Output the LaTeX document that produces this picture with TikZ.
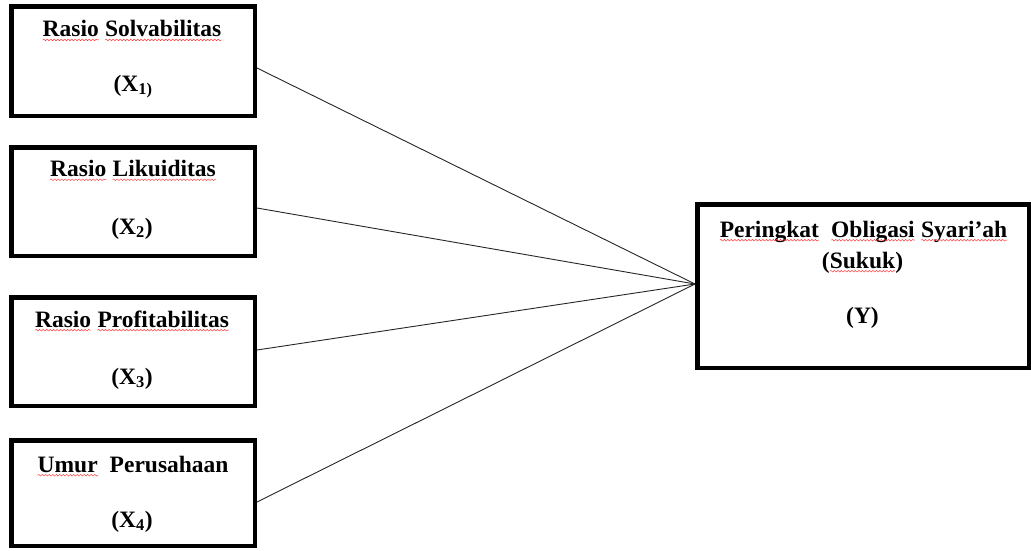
\documentclass[tikz,border=0pt]{standalone}
\usepackage{fontspec}
\setmainfont{Liberation Serif}
\usetikzlibrary{decorations.pathmorphing}
% red wavy underline under a single word
\newcommand\wavy[1]{\tikz[baseline=(w.base), x=1pt, y=1pt]{%
  \node[anchor=base, inner sep=0pt, outer sep=0pt, draw=none] (w) {#1};
  \draw[red!80!white, line width=0.45pt, decorate, decoration={snake, segment length=3.5pt, amplitude=0.8pt}]
    ([yshift=-3.2pt]w.base west) -- ([yshift=-3.2pt]w.base east);}}
\tikzset{
  varbox/.style={draw=black, line width=4.5pt, inner sep=0pt, fill=white},
  label/.style={anchor=base, inner sep=0pt, font=\fontsize{23.5}{28}\selectfont\bfseries},
  link/.style={draw=black!85, line width=0.9pt}
}
\begin{document}
\begin{tikzpicture}[x=1pt, y=-1pt]
\useasboundingbox (0,0) rectangle (1031,550);
% independent variables
\node[varbox, minimum width=243.5pt, minimum height=109.5pt] (b1) at (133,61) {};
\node[varbox, minimum width=243.5pt, minimum height=108.5pt] (b2) at (133,201.5) {};
\node[varbox, minimum width=243.5pt, minimum height=108.5pt] (b3) at (133,351.5) {};
\node[varbox, minimum width=243.5pt, minimum height=105.5pt] (b4) at (133,493) {};
% dependent variable
\node[varbox, minimum width=331.5pt, minimum height=163.5pt] (y) at (863,286) {};

\node[label] (t1a) at (132,36.7) {\wavy{Rasio} \wavy{Solvabilitas}};
\node[label] (t1b) at (133,91) {(X\textsubscript{1)}};
\node[label] (t2a) at (133,176.5) {\wavy{Rasio} \wavy{Likuiditas}};
\node[label] (t2b) at (132,234) {(X\textsubscript{2})};
\node[label] (t3a) at (132,327) {\wavy{Rasio} \wavy{Profitabilitas}};
\node[label] (t3b) at (132,384) {(X\textsubscript{3})};
\node[label] (t4a) at (133,472) {\wavy{Umur}\ \ Perusahaan};
\node[label] (t4b) at (132,527) {(X\textsubscript{4})};

\node[label] (tya) at (863.5,237) {\wavy{Peringkat}\ \ \wavy{Obligasi} \wavy{Syari’ah}};
\node[label] (tyb) at (862.5,268) {(\wavy{Sukuk})};
\node[label] (tyc) at (862.5,323) {(Y)};

% connectors
\draw[link] ([yshift=-7pt]b1.east) -- ([yshift=2pt]y.west);
\draw[link] ([yshift=-6.5pt]b2.east) -- ([yshift=2pt]y.west);
\draw[link] ([yshift=1.5pt]b3.east) -- ([yshift=2pt]y.west);
\draw[link] ([yshift=-9pt]b4.east) -- ([yshift=2pt]y.west);
\end{tikzpicture}
\end{document}
